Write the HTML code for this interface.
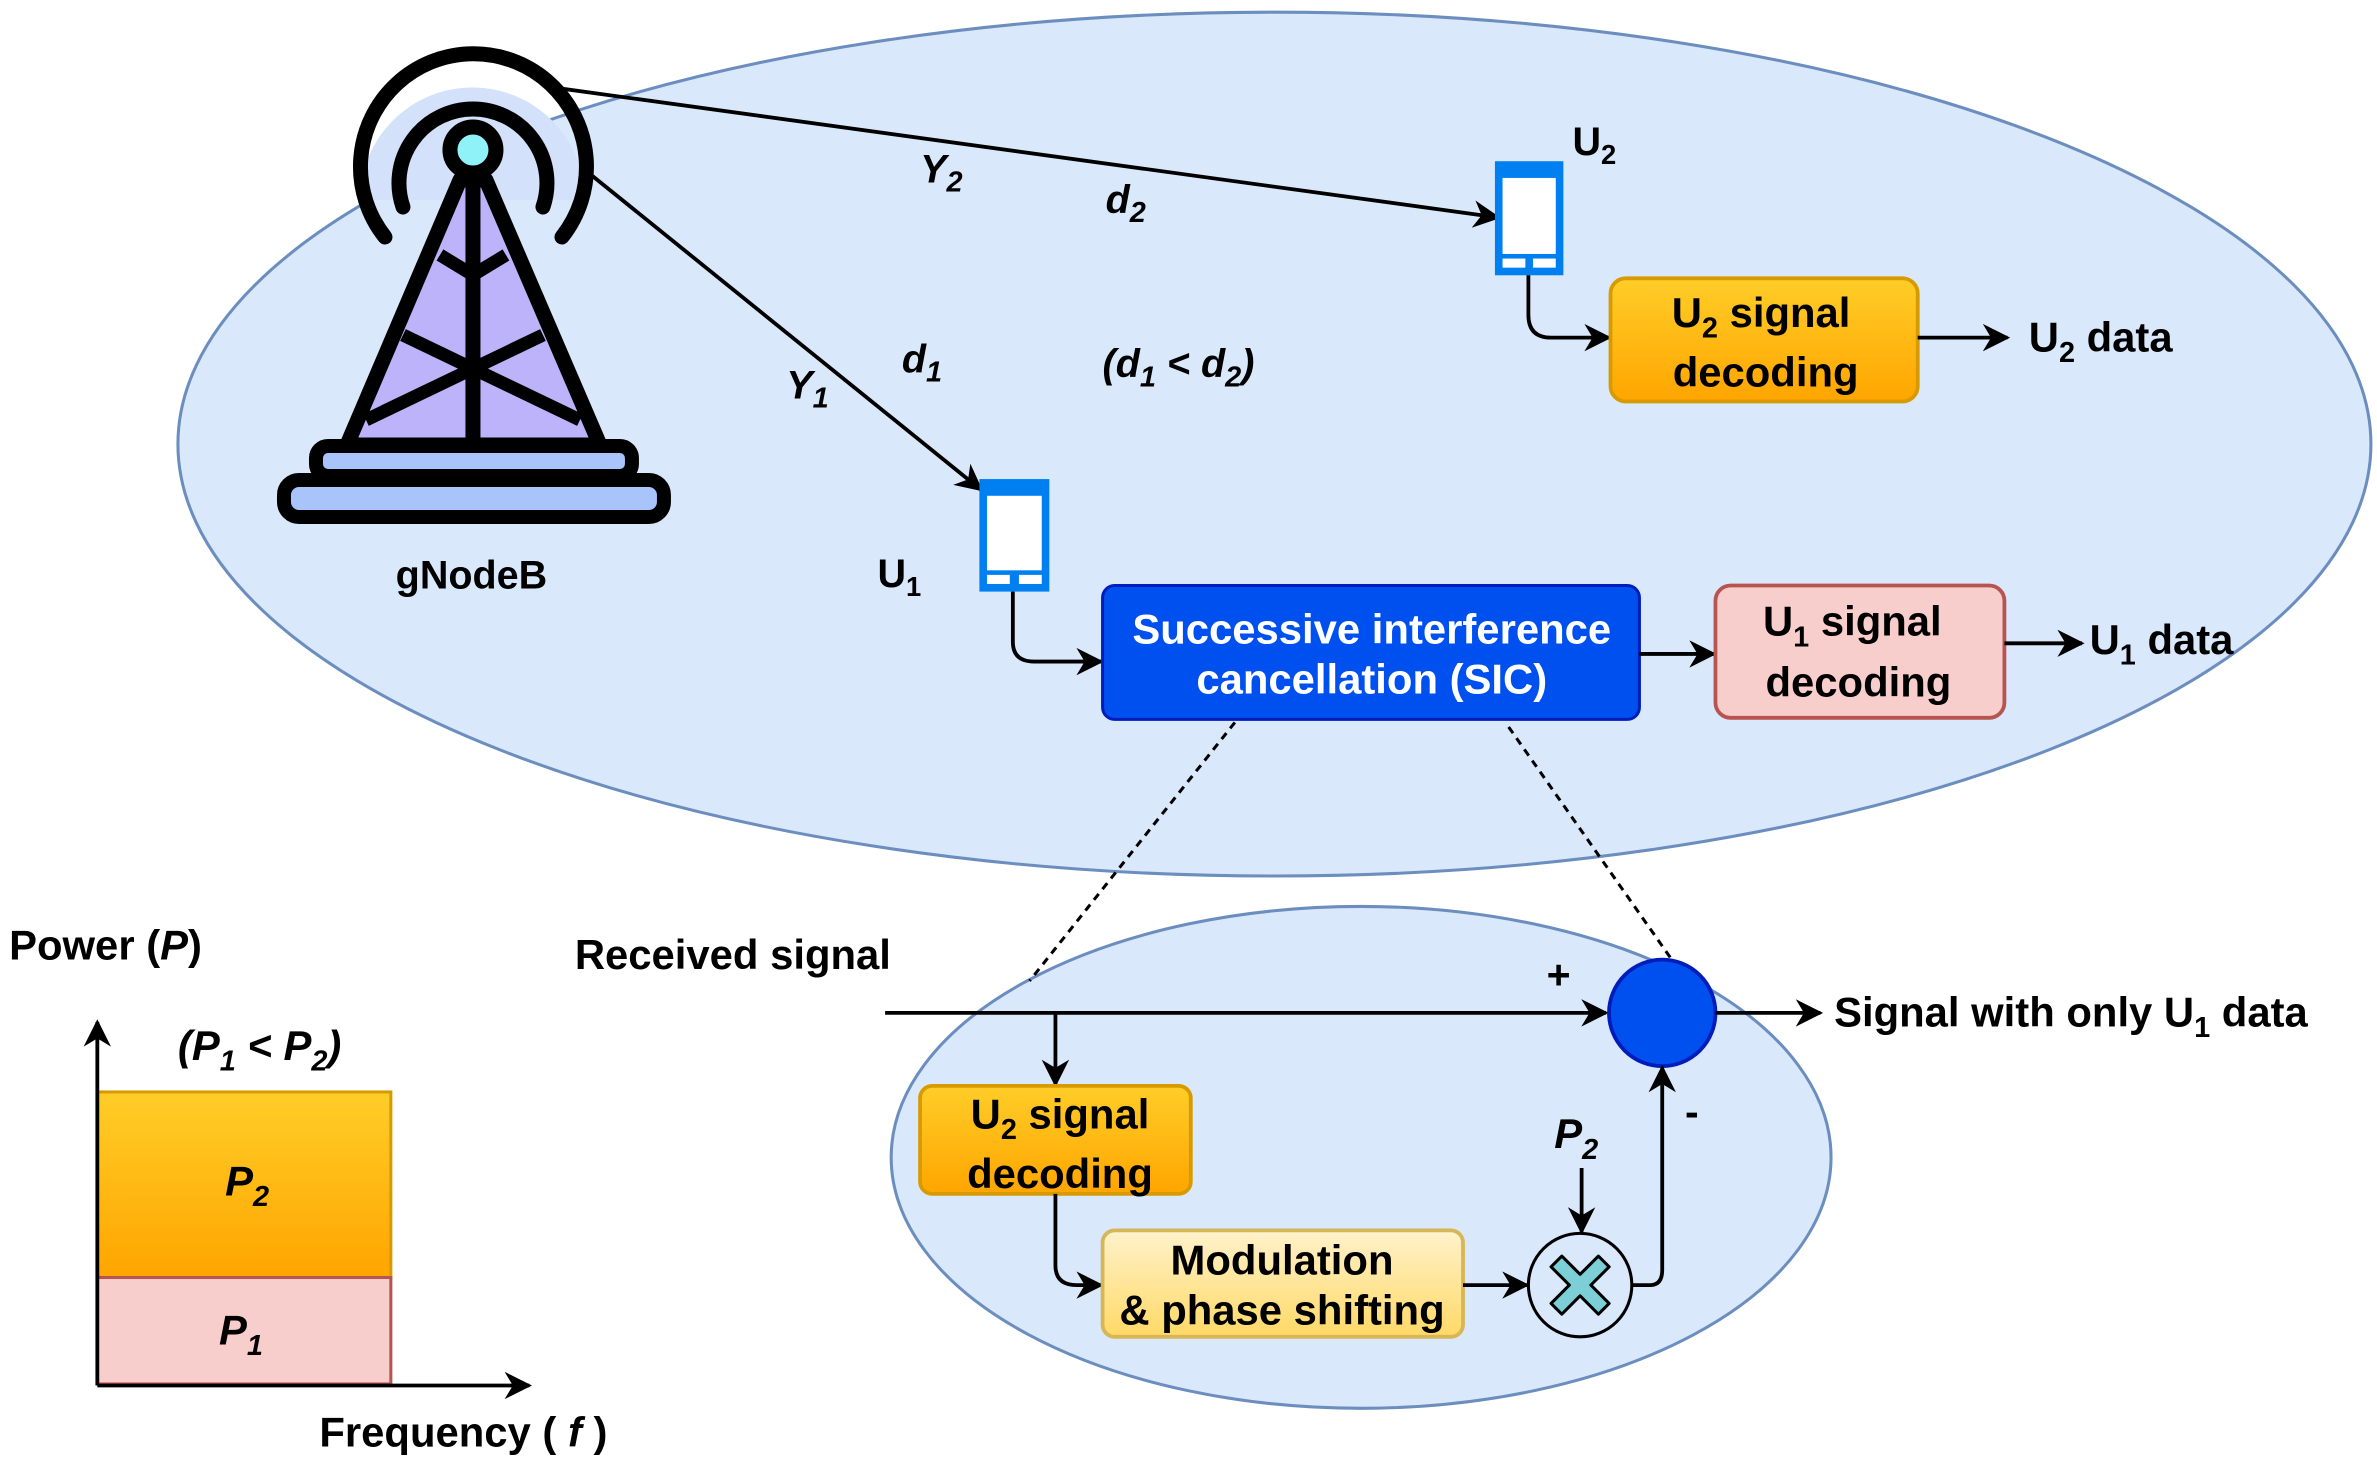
<!DOCTYPE html>
<html><head><meta charset="utf-8"><style>
html,body{margin:0;padding:0;background:#fff;}
svg{display:block;}
text{font-family:"Liberation Sans",Arial,sans-serif;font-weight:bold;fill:#000;}
</style></head><body>
<svg width="2377" height="1467" viewBox="0 0 1563 964.6" preserveAspectRatio="none" xmlns="http://www.w3.org/2000/svg">
<defs>
<marker id="b" viewBox="0 0 10 10" refX="9" refY="5" markerWidth="18" markerHeight="18" markerUnits="userSpaceOnUse" orient="auto">
<path d="M0,0 L10,5 L0,10 L3,5 z" fill="#000"/></marker>
<linearGradient id="og" x1="0" y1="0" x2="0" y2="1"><stop offset="0" stop-color="#ffcd28"/><stop offset="1" stop-color="#ffa500"/></linearGradient>
<linearGradient id="yg" x1="0" y1="0" x2="0" y2="1"><stop offset="0" stop-color="#fff2cc"/><stop offset="1" stop-color="#ffd966"/></linearGradient>
</defs>

<ellipse cx="838" cy="292" rx="721" ry="284" fill="#dae8fc" stroke="#6c8ebf" stroke-width="2"/>
<ellipse cx="895" cy="761" rx="309" ry="165" fill="#dae8fc" stroke="#6c8ebf" stroke-width="2"/>

<g transform="scale(0.6575)">
<path d="M360,200 A111,111 0 1 1 585,200" fill="#d4e1fb" stroke="none"/>
<path d="M385,237 A113,113 0 1 1 562,237" fill="none" stroke="#000" stroke-width="15" stroke-linecap="round"/>
<path d="M403,207 A74,74 0 1 1 543,207" fill="none" stroke="#000" stroke-width="15" stroke-linecap="round"/>
<path d="M460,180 L486,180 L600,445 L347,445 Z" fill="#bcb3fb" stroke="#000" stroke-width="15" stroke-linejoin="round"/>
<line x1="473" y1="175" x2="473" y2="445" stroke="#000" stroke-width="15"/>
<polyline points="440,255 473,275 506,255" fill="none" stroke="#000" stroke-width="13"/>
<line x1="403" y1="335" x2="580" y2="420" stroke="#000" stroke-width="13"/>
<line x1="543" y1="335" x2="366" y2="420" stroke="#000" stroke-width="13"/>
<circle cx="473" cy="150" r="23" fill="#8ef2f8" stroke="#000" stroke-width="15"/>
<rect x="316" y="446" width="316" height="30" rx="12" fill="#a9c3fb" stroke="#000" stroke-width="14"/>
<rect x="284" y="480" width="380" height="37" rx="15" fill="#a9c3fb" stroke="#000" stroke-width="14"/>
</g>
<text x="310" y="387" font-size="26" text-anchor="middle">gNodeB</text>

<line x1="360" y1="57" x2="985" y2="143" stroke="#000" stroke-width="2.5" marker-end="url(#b)"/>
<line x1="385" y1="112" x2="645" y2="322" stroke="#000" stroke-width="2.5" marker-end="url(#b)"/>
<text x="605" y="120" font-size="26" font-style="italic">Y<tspan font-size="19" dy="6">2</tspan></text>
<text x="727" y="140" font-size="26" font-style="italic">d<tspan font-size="19" dy="6">2</tspan></text>
<text x="593" y="245" font-size="26" font-style="italic">d<tspan font-size="19" dy="6">1</tspan></text>
<text x="725" y="248" font-size="26" font-style="italic">(d<tspan font-size="19" dy="6">1</tspan><tspan dy="-6"> &lt; d</tspan><tspan font-size="19" dy="6">2</tspan><tspan dy="-6">)</tspan></text>
<text x="517" y="262" font-size="26" font-style="italic">Y<tspan font-size="19" dy="6">1</tspan></text>

<rect x="983" y="106" width="45" height="75" fill="#0080f0"/>
<rect x="988" y="117" width="35" height="50" fill="#fff"/>
<rect x="988" y="170" width="15" height="6" fill="#fff"/><rect x="1008" y="170" width="15" height="6" fill="#fff"/>
<text x="1034" y="102" font-size="26">U<tspan font-size="18" dy="6">2</tspan></text>
<rect x="644" y="315" width="46" height="74" fill="#0080f0"/>
<rect x="649" y="326" width="36" height="49" fill="#fff"/>
<rect x="649" y="378" width="15" height="6" fill="#fff"/><rect x="670" y="378" width="15" height="6" fill="#fff"/>
<text x="577" y="386" font-size="26">U<tspan font-size="18" dy="6">1</tspan></text>

<path d="M1005,181 L1005,207 Q1005,222 1020,222 L1058,222" fill="none" stroke="#000" stroke-width="2.5" marker-end="url(#b)"/>
<rect x="1059" y="183" width="202" height="81" rx="10" fill="url(#og)" stroke="#d79b00" stroke-width="2.5"/>
<text x="1158" y="215" font-size="27.5" text-anchor="middle">U<tspan font-size="19" dy="7">2</tspan><tspan dy="-7"> signal</tspan></text>
<text x="1161" y="254" font-size="27.5" text-anchor="middle">decoding</text>
<line x1="1261" y1="222" x2="1320" y2="222" stroke="#000" stroke-width="2.5" marker-end="url(#b)"/>
<text x="1334" y="231" font-size="27.5">U<tspan font-size="19" dy="7">2</tspan><tspan dy="-7"> data</tspan></text>

<path d="M666,389 L666,422 Q666,435 680,435 L724,435" fill="none" stroke="#000" stroke-width="2.5" marker-end="url(#b)"/>
<rect x="725" y="385" width="353" height="88" rx="8" fill="#0050ef" stroke="#001dbc" stroke-width="2"/>
<text x="902" y="423" font-size="27.5" text-anchor="middle" style="fill:#fff">Successive interference</text>
<text x="902" y="456" font-size="27.5" text-anchor="middle" style="fill:#fff">cancellation (SIC)</text>
<line x1="1078" y1="430" x2="1127" y2="430" stroke="#000" stroke-width="2.5" marker-end="url(#b)"/>
<rect x="1128" y="385" width="190" height="87" rx="10" fill="#f8cecc" stroke="#b85450" stroke-width="2.5"/>
<text x="1218" y="418" font-size="27.5" text-anchor="middle">U<tspan font-size="19" dy="7">1</tspan><tspan dy="-7"> signal</tspan></text>
<text x="1222" y="458" font-size="27.5" text-anchor="middle">decoding</text>
<line x1="1318" y1="423" x2="1369" y2="423" stroke="#000" stroke-width="2.5" marker-end="url(#b)"/>
<text x="1374" y="430" font-size="27.5">U<tspan font-size="19" dy="7">1</tspan><tspan dy="-7"> data</tspan></text>

<line x1="812" y1="475" x2="677" y2="645" stroke="#000" stroke-width="2" stroke-dasharray="5,4"/>
<line x1="992" y1="478" x2="1100" y2="632" stroke="#000" stroke-width="2" stroke-dasharray="5,4"/>

<text x="378" y="637" font-size="27.5">Received signal</text>
<line x1="582" y1="666" x2="1056" y2="666" stroke="#000" stroke-width="2.5" marker-end="url(#b)"/>
<text x="1017" y="650" font-size="27">+</text>
<circle cx="1093" cy="666" r="35" fill="#0050ef" stroke="#001dbc" stroke-width="2.5"/>
<line x1="1128" y1="666" x2="1197" y2="666" stroke="#000" stroke-width="2.5" marker-end="url(#b)"/>
<text x="1206" y="675" font-size="27.5">Signal with only U<tspan font-size="19" dy="7">1</tspan><tspan dy="-7"> data</tspan></text>

<line x1="694" y1="666" x2="694" y2="713" stroke="#000" stroke-width="2.5" marker-end="url(#b)"/>
<rect x="605" y="714" width="178" height="71" rx="8" fill="url(#og)" stroke="#d79b00" stroke-width="2.5"/>
<text x="697" y="742" font-size="27.5" text-anchor="middle">U<tspan font-size="19" dy="7">2</tspan><tspan dy="-7"> signal</tspan></text>
<text x="697" y="781" font-size="27.5" text-anchor="middle">decoding</text>
<path d="M694,785 L694,832 Q694,845 708,845 L724,845" fill="none" stroke="#000" stroke-width="2.5" marker-end="url(#b)"/>
<rect x="725" y="809" width="237" height="70" rx="8" fill="url(#yg)" stroke="#d6b656" stroke-width="2.5"/>
<text x="843" y="838" font-size="27.5" text-anchor="middle">Modulation</text>
<text x="843" y="871" font-size="27.5" text-anchor="middle">&amp; phase shifting</text>
<line x1="962" y1="845" x2="1004" y2="845" stroke="#000" stroke-width="2.5" marker-end="url(#b)"/>
<circle cx="1039" cy="845" r="34" fill="#dae8fc" stroke="#000" stroke-width="2"/>
<g transform="translate(1039,845) rotate(45)">
<path d="M-5,-22 L5,-22 L5,-5 L22,-5 L22,5 L5,5 L5,22 L-5,22 L-5,5 L-22,5 L-22,-5 L-5,-5 Z" fill="#7ccfd6" stroke="#000" stroke-width="2" stroke-linejoin="round"/>
</g>
<text x="1022" y="755" font-size="27.5" font-style="italic">P<tspan font-size="19" dy="7">2</tspan></text>
<line x1="1040" y1="768" x2="1040" y2="810" stroke="#000" stroke-width="2.5" marker-end="url(#b)"/>
<path d="M1073,845 L1085,845 Q1093,845 1093,835 L1093,702" fill="none" stroke="#000" stroke-width="2.5" marker-end="url(#b)"/>
<text x="1108" y="740" font-size="27">-</text>

<rect x="64" y="718" width="193" height="122" fill="url(#og)" stroke="#d79b00" stroke-width="2"/>
<rect x="64" y="840" width="193" height="70" fill="#f8cecc" stroke="#b85450" stroke-width="2"/>
<line x1="64" y1="911" x2="64" y2="672" stroke="#000" stroke-width="2.5" marker-end="url(#b)"/>
<line x1="64" y1="911" x2="348" y2="911" stroke="#000" stroke-width="2.5" marker-end="url(#b)"/>
<text x="148" y="786" font-size="27.5" font-style="italic">P<tspan font-size="19" dy="7">2</tspan></text>
<text x="144" y="884" font-size="27.5" font-style="italic">P<tspan font-size="19" dy="7">1</tspan></text>
<text x="117" y="697" font-size="27.5" font-style="italic">(P<tspan font-size="19" dy="7">1</tspan><tspan dy="-7"> &lt; P</tspan><tspan font-size="19" dy="7">2</tspan><tspan dy="-7">)</tspan></text>
<text x="6" y="631" font-size="27.5">Power (<tspan font-style="italic">P</tspan>)</text>
<text x="210" y="951" font-size="27.5">Frequency ( <tspan font-style="italic">f</tspan> )</text>
</svg>
</body></html>
